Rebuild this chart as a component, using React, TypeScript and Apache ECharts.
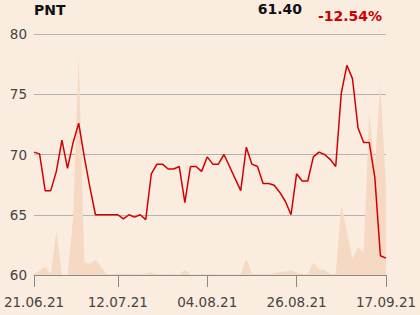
import React, { useEffect, useRef } from "react";
import * as echarts from "echarts";

const ticker = "PNT";
const lastPrice = "61.40";
const changePct = "-12.54%";

const tickIndex = [0, 15, 31, 47, 63];
const tickLabels = ["21.06.21", "12.07.21", "04.08.21", "26.08.21", "17.09.21"];

const price = [
  70.2, 70.05, 67.0, 67.0, 68.6, 71.2, 68.85, 71.0, 72.6, 69.8,
  67.3, 65.0, 65.0, 65.0, 65.0, 65.0, 64.65, 65.0, 64.8, 65.0,
  64.6, 68.4, 69.2, 69.2, 68.8, 68.8, 69.0, 66.0, 69.0, 69.0,
  68.6, 69.8, 69.2, 69.2, 70.0, 69.0, 68.0, 67.0, 70.6, 69.2,
  69.0, 67.6, 67.6, 67.45, 66.85, 66.1, 65.0, 68.4, 67.8, 67.8,
  69.8, 70.2, 70.0, 69.6, 69.0, 75.1, 77.4, 76.3, 72.2, 71.0,
  71.0, 68.1, 61.6, 61.4,
];

const volume = [
  0.4, 1.8, 3.4, 0.4, 18, 0, 0, 24, 91, 5.5,
  4.7, 6.3, 3.4, 0.4, 0.3, 0.6, 0.5, 0.6, 0.4, 0.3,
  0.6, 1.1, 0.3, 0.2, 0.4, 0.3, 0.3, 2.1, 0.3, 0.2,
  0.3, 0.3, 0.4, 0.3, 0.2, 0.2, 0.2, 0.3, 6.6, 0.5,
  0.5, 0.3, 0.3, 0.6, 1.4, 1.4, 2.1, 0.9, 0.4, 0.4,
  5.1, 2.4, 2.1, 0.6, 0.4, 29, 18, 7, 11.7, 9,
  67, 45, 79.5, 36,
];

const categories = price.map((_, i) => {
  const k = tickIndex.indexOf(i);
  return k >= 0 ? tickLabels[k] : "";
});

export default function App() {
  const ref = useRef<HTMLDivElement>(null);
  useEffect(() => {
    document.body.style.margin = "0";
    const chart = echarts.init(ref.current!, null, { renderer: "svg" });
    const font = "DejaVu Sans";
    chart.setOption({
      animation: false,
      backgroundColor: "#fbece0",
      textStyle: { fontFamily: font },
      grid: { left: 34, right: 34, top: 34, bottom: 40 },
      graphic: [
        {
          type: "text",
          x: 34,
          y: 3,
          style: { text: ticker, fill: "#111", font: `bold 14px ${font}`, textAlign: "left", textVerticalAlign: "top" },
        },
        {
          type: "text",
          x: 302,
          y: 2,
          style: { text: lastPrice, fill: "#111", font: `bold 14px ${font}`, textAlign: "right", textVerticalAlign: "top" },
        },
        {
          type: "text",
          x: 382,
          y: 9,
          style: { text: changePct, fill: "#cc0000", font: `bold 14px ${font}`, textAlign: "right", textVerticalAlign: "top" },
        },
      ],
      xAxis: {
        type: "category",
        data: categories,
        boundaryGap: false,
        axisLine: { lineStyle: { color: "#8a8a8a", width: 1 } },
        axisTick: {
          length: 12,
          lineStyle: { color: "#8a8a8a" },
          interval: (i: number) => tickIndex.indexOf(i) >= 0,
        },
        axisLabel: {
          interval: (i: number) => tickIndex.indexOf(i) >= 0,
          color: "#444",
          fontSize: 13.5,
          margin: 20,
          fontFamily: font,
        },
        splitLine: { show: false },
      },
      yAxis: [
        {
          type: "value",
          min: 60,
          max: 80,
          interval: 5,
          position: "left",
          axisLine: { show: false },
          axisTick: { show: false },
          axisLabel: { color: "#444", fontSize: 13.5, margin: 7, fontFamily: font },
          splitLine: { lineStyle: { color: "#b3b3b3", width: 1 } },
        },
        {
          type: "value",
          min: 0,
          max: 100,
          show: false,
          splitLine: { show: false },
        },
      ],
      series: [
        {
          type: "line",
          yAxisIndex: 1,
          data: volume,
          symbol: "none",
          lineStyle: { width: 0 },
          areaStyle: { color: "#f6d9c3", opacity: 1 },
          z: 1,
        },
        {
          type: "line",
          yAxisIndex: 0,
          data: price,
          symbol: "none",
          lineStyle: { color: "#d20000", width: 1.5 },
          z: 3,
        },
      ],
    });
    return () => chart.dispose();
  }, []);
  return <div ref={ref} style={{ position: "absolute", left: 0, top: 0, width: 420, height: 315 }} />;
}
